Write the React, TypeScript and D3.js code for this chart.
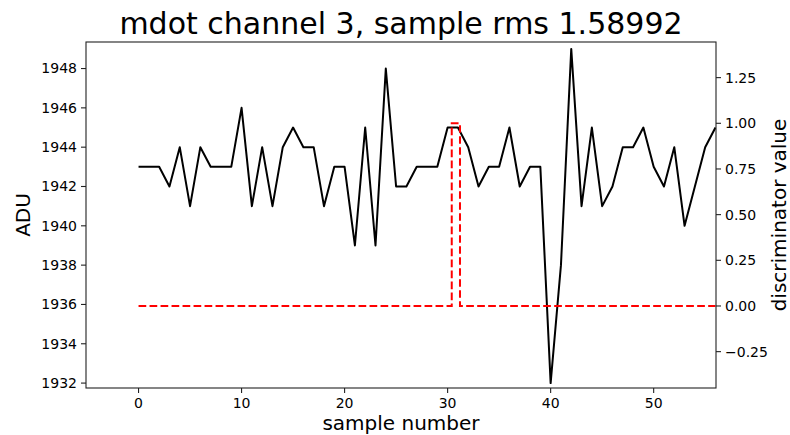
import * as d3 from "d3";

const sampleIndex = d3.range(0, 57);
const adcValues = [
  1943, 1943, 1943, 1942, 1944, 1941, 1944, 1943, 1943, 1943,
  1946, 1941, 1944, 1941, 1944, 1945, 1944, 1944, 1941, 1943,
  1943, 1939, 1945, 1939, 1948, 1942, 1942, 1943, 1943, 1943,
  1945, 1945, 1944, 1942, 1943, 1943, 1945, 1942, 1943, 1943,
  1932, 1938, 1949, 1941, 1945, 1941, 1942, 1944, 1944, 1945,
  1943, 1942, 1944, 1940, 1942, 1944, 1945,
];
const discrimX = [0, 30.4, 30.4, 31.2, 31.2, 56];
const discrimValues = [0, 0, 1, 1, 0, 0];

const xTicks = [0, 10, 20, 30, 40, 50];
const adcTicks = [1932, 1934, 1936, 1938, 1940, 1942, 1944, 1946, 1948];
const discrimTicks = [-0.25, 0, 0.25, 0.5, 0.75, 1.0, 1.25];

const titleText = "mdot channel 3, sample rms 1.58992";

const W = 790;
const H = 435;
const margin = { top: 42, right: 74, bottom: 47, left: 86 };
const FONT = "DejaVu Sans, sans-serif";

const App = () => {
  const innerW = W - margin.left - margin.right;
  const innerH = H - margin.top - margin.bottom;

  const x = d3.scaleLinear().domain([-5.1, 56.05]).range([0, innerW]);
  const yLeft = d3.scaleLinear().domain([1931.75, 1949.35]).range([innerH, 0]);
  const yRight = d3.scaleLinear().domain([-0.449, 1.445]).range([innerH, 0]);

  const adcLine = d3
    .line<number>()
    .x((_, i) => x(sampleIndex[i]))
    .y((d) => yLeft(d))(adcValues);

  const discrimLine = d3
    .line<number>()
    .x((_, i) => x(discrimX[i]))
    .y((d) => yRight(d))(discrimValues);

  const fmtRight = (v: number) => d3.format(".2f")(v).replace("-", "\u2212");

  return (
    <svg
      width={W}
      height={H}
      style={{ position: "absolute", left: 0, top: 0, background: "white" }}
      fontFamily={FONT}
    >
      <defs>
        <clipPath id="plot-clip">
          <rect x={0} y={0} width={innerW} height={innerH} />
        </clipPath>
      </defs>

      <text x={margin.left + innerW / 2} y={34} textAnchor="middle" fontSize={30} fill="#000">
        {titleText}
      </text>

      <g transform={`translate(${margin.left},${margin.top})`}>
        <g clipPath="url(#plot-clip)">
          <path d={adcLine ?? ""} fill="none" stroke="#000" strokeWidth={2} strokeLinejoin="round" />
          <path
            d={discrimLine ?? ""}
            fill="none"
            stroke="#ff0000"
            strokeWidth={2}
            strokeDasharray="7.7,3.3"
          />
        </g>

        <rect x={0} y={0} width={innerW} height={innerH} fill="none" stroke="#222" strokeWidth={1.1} />

        {/* bottom axis */}
        {xTicks.map((t) => (
          <g key={`x${t}`} transform={`translate(${x(t)},${innerH})`}>
            <line y1={0} y2={5} stroke="#222" strokeWidth={1.1} />
            <text y={20} textAnchor="middle" fontSize={14} fill="#000">
              {t}
            </text>
          </g>
        ))}

        {/* left axis */}
        {adcTicks.map((t) => (
          <g key={`yl${t}`} transform={`translate(0,${yLeft(t)})`}>
            <line x1={-5} x2={0} stroke="#222" strokeWidth={1.1} />
            <text x={-9} dy="0.35em" textAnchor="end" fontSize={14} fill="#000">
              {t}
            </text>
          </g>
        ))}

        {/* right axis */}
        {discrimTicks.map((t) => (
          <g key={`yr${t}`} transform={`translate(${innerW},${yRight(t)})`}>
            <line x1={0} x2={5} stroke="#222" strokeWidth={1.1} />
            <text x={9} dy="0.35em" textAnchor="start" fontSize={14} fill="#000">
              {fmtRight(t)}
            </text>
          </g>
        ))}
      </g>

      <text x={margin.left + innerW / 2} y={430} textAnchor="middle" fontSize={20} fill="#000">
        sample number
      </text>
      <text
        transform={`translate(30,${margin.top + innerH / 2}) rotate(-90)`}
        textAnchor="middle"
        fontSize={20}
        fill="#000"
      >
        ADU
      </text>
      <text
        transform={`translate(786,${margin.top + innerH / 2}) rotate(-90)`}
        textAnchor="middle"
        fontSize={20}
        fill="#000"
      >
        discriminator value
      </text>
    </svg>
  );
};

export default App;
